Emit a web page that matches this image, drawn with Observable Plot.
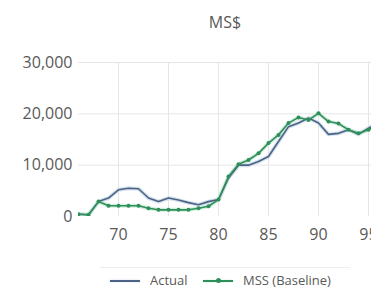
<!DOCTYPE html>
<html>
<head>
<meta charset="utf-8">
<script src="https://cdn.jsdelivr.net/npm/d3@7"></script>
<script src="https://cdn.jsdelivr.net/npm/@observablehq/plot@0.6"></script>
<style>
  html, body { margin: 0; padding: 0; background: #fff; overflow: hidden; }
  body { width: 371px; height: 288px; position: relative; font-family: "Open Sans", sans-serif; }
  #title { position: absolute; left: 0; width: 450px; top: 11px; text-align: center; font-size: 16px; color: #595959; }
  #chart { position: absolute; left: 0; top: 38px; }
  #legend { position: absolute; left: 100px; width: 250px; top: 267px; border-top: 1px solid #eeeeee; height: 21px; }
  .lg { position: absolute; top: 5px; font-size: 13px; color: #595959; white-space: nowrap; line-height: 14px; }
  .sw { position: absolute; height: 2px; top: 12px; }
</style>
</head>
<body>
<div id="title">MS$</div>
<div id="chart"></div>
<div id="legend">
  <div class="sw" style="left:10px;width:30px;background:#4d6386;box-shadow:0 0 2px #c9d7e6;"></div>
  <div class="lg" style="left:50px;">Actual</div>
  <div class="sw" style="left:103px;width:30px;background:#2f8f5a;box-shadow:0 0 2px #c8e8d6;"></div>
  <div style="position:absolute;left:116px;top:10px;width:5px;height:5px;border-radius:50%;background:#2f8f5a;"></div>
  <div class="lg" style="left:143px;">MSS (Baseline)</div>
</div>
<script>
const years = [66,67,68,69,70,71,72,73,74,75,76,77,78,79,80,81,82,83,84,85,86,87,88,89,90,91,92,93,94,95,96];
const actual = [450,350,2900,3600,5200,5500,5400,3600,2900,3600,3200,2700,2300,2900,3300,7500,10000,10000,10700,11700,14600,17500,18200,19200,18200,16000,16200,16900,16000,17200,18300];
const mss = [450,350,2900,2100,2100,2100,2100,1600,1300,1300,1300,1300,1600,2000,3300,7800,10200,11000,12300,14300,15900,18200,19300,18800,20100,18500,18100,16900,16200,16900,18000];
const yTicks = [0,10000,20000,30000];
const xTicks = [70,75,80,85,90,95];

const dA = years.map((y,i)=>({year:y, value:actual[i]}));
const dM = years.map((y,i)=>({year:y, value:mss[i]}));

const chart = Plot.plot({
  width: 371,
  height: 230,
  marginLeft: 78,
  marginRight: 0,
  marginTop: 24,
  marginBottom: 52,
  style: {fontFamily: "Open Sans, sans-serif", fontSize: "16px", color: "#595959", background: "transparent", overflow: "hidden"},
  x: {domain: [66, 95.3], ticks: xTicks, tickSize: 0, tickPadding: 12, tickFormat: d => String(d), label: null},
  y: {domain: [0, 30000], ticks: yTicks, tickSize: 0, tickPadding: 6, tickFormat: d3.format(","), label: null},
  marks: [
    Plot.ruleX(xTicks, {stroke: "#e6e6e6", strokeWidth: 1, y1: 0, y2: 30000}),
    Plot.ruleY(yTicks.filter(d => d > 0), {stroke: "#e6e6e6", strokeWidth: 1}),
    Plot.line(dA, {x: "year", y: "value", stroke: "#c9dbe8", strokeWidth: 4, strokeOpacity: 0.8, clip: true}),
    Plot.line(dM, {x: "year", y: "value", stroke: "#c6ead6", strokeWidth: 4, strokeOpacity: 0.8, clip: true}),
    Plot.line(dA, {x: "year", y: "value", stroke: "#4d6386", strokeWidth: 1.6, clip: true}),
    Plot.line(dM, {x: "year", y: "value", stroke: "#2f8f5a", strokeWidth: 1.6, clip: true}),
    Plot.dot(dM, {x: "year", y: "value", r: 2, fill: "#2f8f5a", stroke: null, clip: true})
  ]
});
document.getElementById("chart").appendChild(chart);
</script>
</body>
</html>
